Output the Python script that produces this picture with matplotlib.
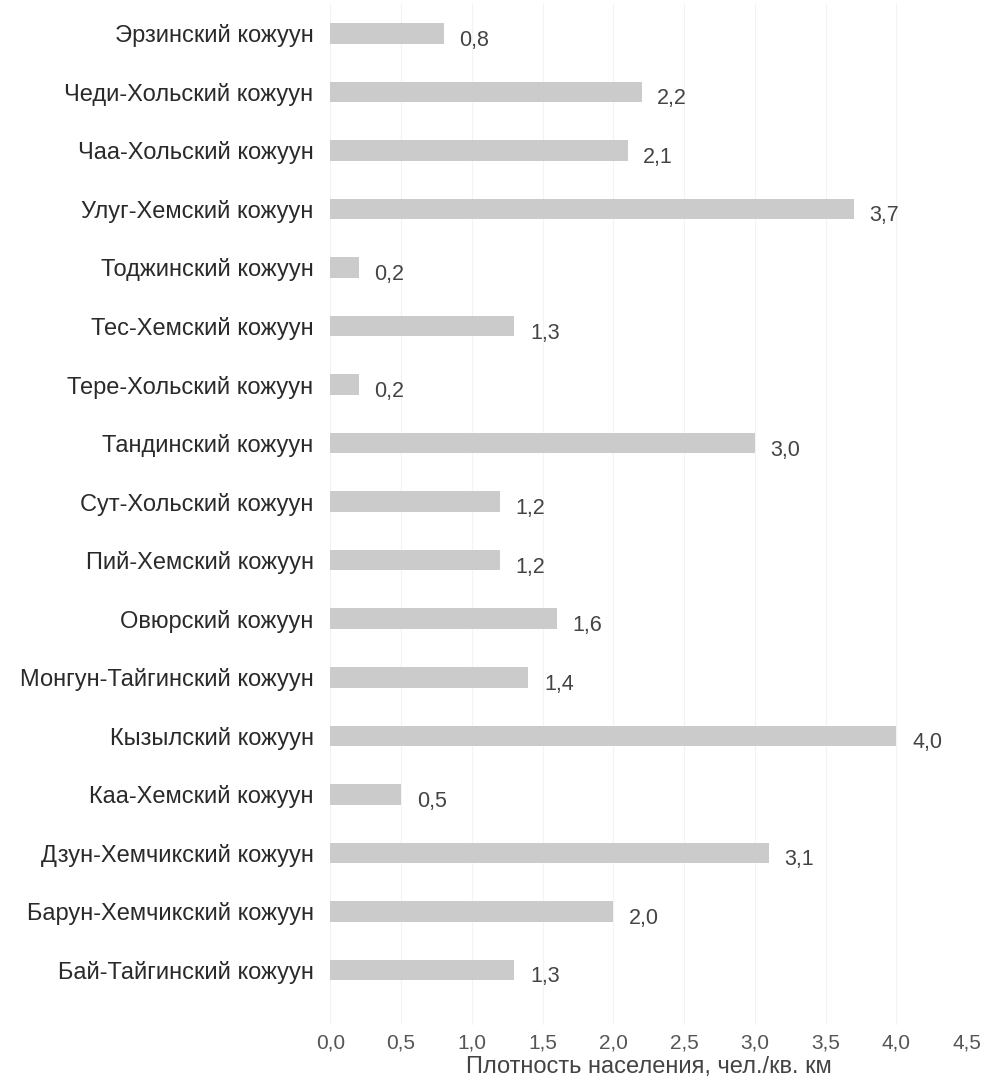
import matplotlib
matplotlib.use("Agg")
import matplotlib.pyplot as plt

categories = [
    "Бай-Тайгинский кожуун",
    "Барун-Хемчикский кожуун",
    "Дзун-Хемчикский кожуун",
    "Каа-Хемский кожуун",
    "Кызылский кожуун",
    "Монгун-Тайгинский кожуун",
    "Овюрский кожуун",
    "Пий-Хемский кожуун",
    "Сут-Хольский кожуун",
    "Тандинский кожуун",
    "Тере-Хольский кожуун",
    "Тес-Хемский кожуун",
    "Тоджинский кожуун",
    "Улуг-Хемский кожуун",
    "Чаа-Хольский кожуун",
    "Чеди-Хольский кожуун",
    "Эрзинский кожуун",
]
values = [1.3, 2.0, 3.1, 0.5, 4.0, 1.4, 1.6, 1.2, 1.2, 3.0, 0.2, 1.3, 0.2, 3.7, 2.1, 2.2, 0.8]
xticks = [0.0, 0.5, 1.0, 1.5, 2.0, 2.5, 3.0, 3.5, 4.0, 4.5]
xlabel = "Плотность населения, чел./кв. км"

plt.rcParams['font.family'] = ['Liberation Sans', 'DejaVu Sans']

fig = plt.figure(figsize=(9.83, 10.85), dpi=100)
ax = fig.add_axes([0.336, 0.0553, 0.648, 0.9410])

y = list(range(len(categories)))
ax.barh(y, values, height=0.35, color="#cbcbcb", zorder=2)
for yi, v in zip(y, values):
    ax.text(v + 0.11, yi - 0.12, f"{v:.1f}".replace(".", ","), va="center", ha="left",
            fontsize=15.5, color="#444444")

ax.set_yticks(y)
ax.set_yticklabels(categories, fontsize=17, color="#2a2a2a")
ax.set_xticks(xticks)
ax.set_xticklabels([f"{t:.1f}".replace(".", ",") for t in xticks], fontsize=15, color="#555555")
ax.set_xlim(0, 4.5)
ax.set_ylim(-0.94, 16.5)
ax.tick_params(axis="both", length=0)
ax.tick_params(axis="y", pad=12)
ax.tick_params(axis="x", pad=6)
ax.set_xlabel(xlabel, fontsize=17, color="#444444", labelpad=3)
for s in ax.spines.values():
    s.set_visible(False)
ax.grid(axis="x", color="#f3f3f3", linewidth=0.8, zorder=0)
ax.grid(axis="y", visible=False)

fig.savefig("out.png", dpi=100)
